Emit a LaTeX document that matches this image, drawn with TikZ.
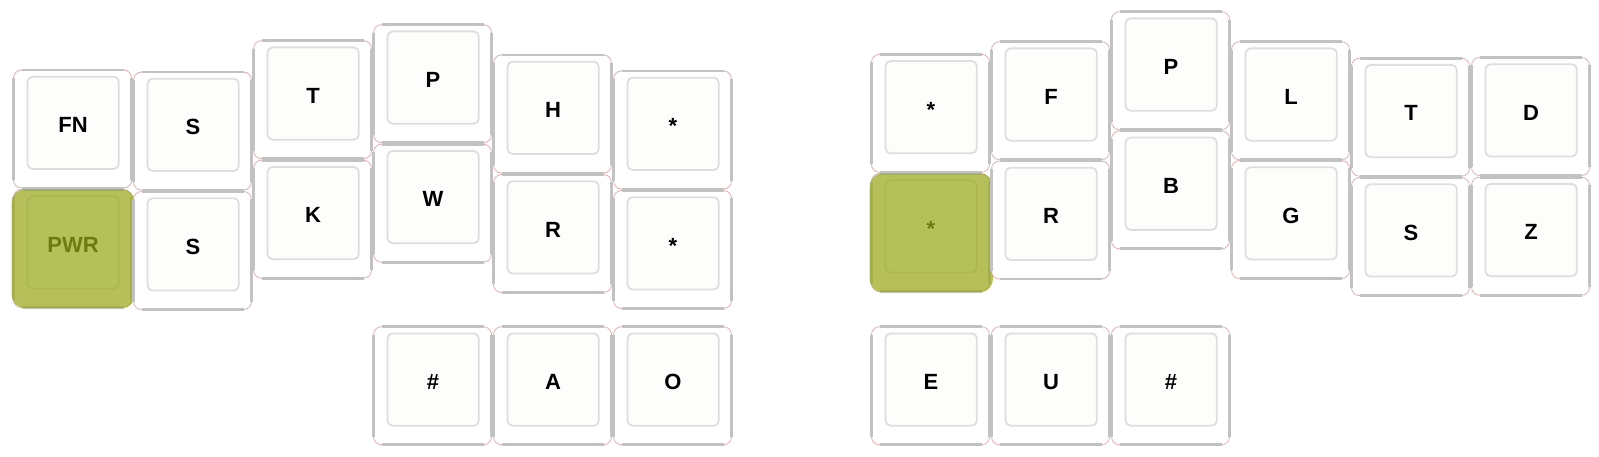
\documentclass[tikz,border=0pt]{standalone}
\usepackage{fontspec}
\setmainfont{Liberation Sans}
\definecolor{keygray}{HTML}{C2C2C2}
\definecolor{keypink}{HTML}{E2B0B0}
\definecolor{innergray}{HTML}{DEDEDE}
\definecolor{innerfill}{HTML}{FDFDFC}
\definecolor{hlover}{HTML}{99A91C}
\tikzset{
  keyfill/.style={fill=white, rounded corners=8},
  keyrim/.style={draw=keypink, line width=0.8pt, rounded corners=8},
  keyedge/.style={draw=keygray, line width=2.2pt},
  keyedgeh/.style={draw=keygray, line width=2.8pt},
  keyinner/.style={draw=innergray, fill=innerfill, line width=1.8pt, rounded corners=5},
  keylabel/.style={anchor=base, inner sep=0pt, font=\fontsize{22}{26}\selectfont\bfseries, text=black},
  hlkey/.style={fill=hlover, fill opacity=0.72, rounded corners=13}
}
\newcommand\kcap[4]{%
  \begin{scope}[shift={(#2,#3)}]
    \path[keyfill] (0,0) rectangle (118,118);
    \draw[keyrim] (0,0) rectangle (118,118);
    \draw[keyedgeh] (8,0) -- (110,0);
    \draw[keyedge] (118,8) -- (118,110);
    \draw[keyedgeh] (8,118) -- (110,118);
    \draw[keyedge] (0,8) -- (0,110);
    \draw[keyinner] (14,6.7) rectangle (105.3,99);
    \node[keylabel] (#1) at (59.5,62.8) {#4};
  \end{scope}}
\newcommand\hlcap[4]{%
  \kcap{#1}{#2}{#3}{#4}%
  \begin{scope}[shift={(#2,#3)}]
    \path[hlkey] (-1.8,-0.3) rectangle (121.5,118.5);
  \end{scope}}
\begin{document}
\begin{tikzpicture}[x=1pt,y=-1pt]
\useasboundingbox (0,0) rectangle (1599,457);
% left half
\kcap{la1}{13.5}{70}{FN}
\kcap{la2}{133.5}{72}{S}
\kcap{la3}{253.5}{40.7}{T}
\kcap{la4}{373.5}{24.7}{P}
\kcap{la5}{493.5}{55}{H}
\kcap{la6}{613.5}{71}{*}
\hlcap{lb1}{13.5}{189.5}{PWR}
\kcap{lb2}{133.5}{191.5}{S}
\kcap{lb3}{253.5}{160.2}{K}
\kcap{lb4}{373.5}{144.2}{W}
\kcap{lb5}{493.5}{174.5}{R}
\kcap{lb6}{613.5}{190.5}{*}
\kcap{lt1}{373.5}{326.7}{\#}
\kcap{lt2}{493.5}{326.7}{A}
\kcap{lt3}{613.5}{326.7}{O}
% right half
\kcap{ra1}{871.5}{54.3}{*}
\kcap{ra2}{991.5}{41.7}{F}
\kcap{ra3}{1111.5}{11.7}{P}
\kcap{ra4}{1231.5}{41.7}{L}
\kcap{ra5}{1351.5}{58.2}{T}
\kcap{ra6}{1471.5}{57.5}{D}
\hlcap{rb1}{871.5}{173.6}{*}
\kcap{rb2}{991.5}{161}{R}
\kcap{rb3}{1111.5}{130.9}{B}
\kcap{rb4}{1231.5}{160.5}{G}
\kcap{rb5}{1351.5}{177.6}{S}
\kcap{rb6}{1471.5}{177.2}{Z}
\kcap{rt1}{871.5}{326.7}{E}
\kcap{rt2}{991.5}{326.7}{U}
\kcap{rt3}{1111.5}{326.7}{\#}
\end{tikzpicture}
\end{document}
